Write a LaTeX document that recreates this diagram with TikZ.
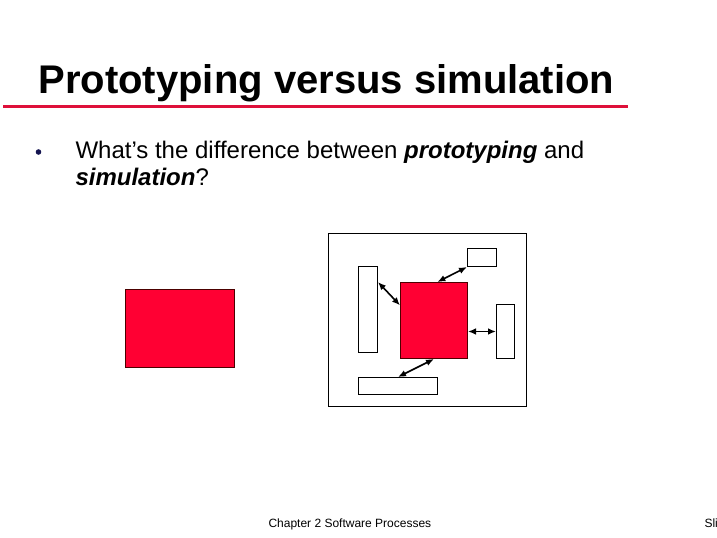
\documentclass[tikz,border=0pt]{standalone}
\usepackage{fontspec}
\setmainfont{Liberation Sans}
\usetikzlibrary{arrows.meta}

\definecolor{slidered}{RGB}{255,0,51}
\definecolor{rulered}{RGB}{222,16,58}
\definecolor{bulletblue}{RGB}{20,20,80}

\tikzset{every picture/.style={line width=0.75pt}}
\tikzset{
  box/.style={draw=black,fill=white,line width=0.75pt,inner sep=0pt,anchor=north west},
  redbox/.style={draw=black!70!red,fill=slidered,line width=0.75pt,inner sep=0pt,anchor=north west},
  link/.style={{Latex[length=6pt,width=5pt]}-{Latex[length=6pt,width=5pt]},line width=1.2pt}
}

\begin{document}
\begin{tikzpicture}[x=0.75pt,y=0.75pt,yscale=-1,xscale=1]
\useasboundingbox (0,0) rectangle (717,538);
% Title
\node (title) at (38,94) [anchor=base west][inner sep=0pt][font=\fontsize{30}{36}\selectfont\bfseries] {Prototyping versus simulation};
% Title rule
\draw [rulered,line width=2.6pt] (3,106.5) -- (628,106.5) ;
% Bullet
\fill [bulletblue] (38.5,152) circle (2.8) ;
% Text Node
\node (line1) at (75,159) [anchor=base west][inner sep=0pt][font=\fontsize{18}{20}\selectfont] {What’s the difference between \textbf{\textit{prototyping}} and};
% Text Node
\node (line2) at (75,186) [anchor=base west][inner sep=0pt][font=\fontsize{18}{20}\selectfont] {\textbf{\textit{simulation}}?};
% Prototype
\node (proto) at (125,289) [redbox,minimum width=109*0.75pt,minimum height=78*0.75pt] {};
% Simulation frame
\node (frame) at (328,233) [box,minimum width=198*0.75pt,minimum height=173*0.75pt] {};
% Simulated system
\node (core) at (400,282) [redbox,minimum width=67*0.75pt,minimum height=76*0.75pt] {};
\node (topbox) at (467,248) [box,minimum width=29*0.75pt,minimum height=18*0.75pt] {};
\node (leftbox) at (358,266) [box,minimum width=19*0.75pt,minimum height=86*0.75pt] {};
\node (rightbox) at (496,304) [box,minimum width=18*0.75pt,minimum height=54*0.75pt] {};
\node (botbox) at (358,377) [box,minimum width=79*0.75pt,minimum height=17*0.75pt] {};
% Links
\draw [link] (core.85) -- (topbox.south west) ;
\draw [link] (leftbox.70) -- (core.156) ;
\draw [link] (rightbox.west) -- (rightbox.west -| core.east) ;
\draw [link] (core.south) -- (botbox.north) ;
% Footer
\node (footer) at (268,527) [anchor=base west][inner sep=0pt][font=\fontsize{9}{11}\selectfont] {Chapter 2 Software Processes};
\node (slide) at (704,527) [anchor=base west][inner sep=0pt][font=\fontsize{9}{11}\selectfont] {Slide};
\end{tikzpicture}
\end{document}
